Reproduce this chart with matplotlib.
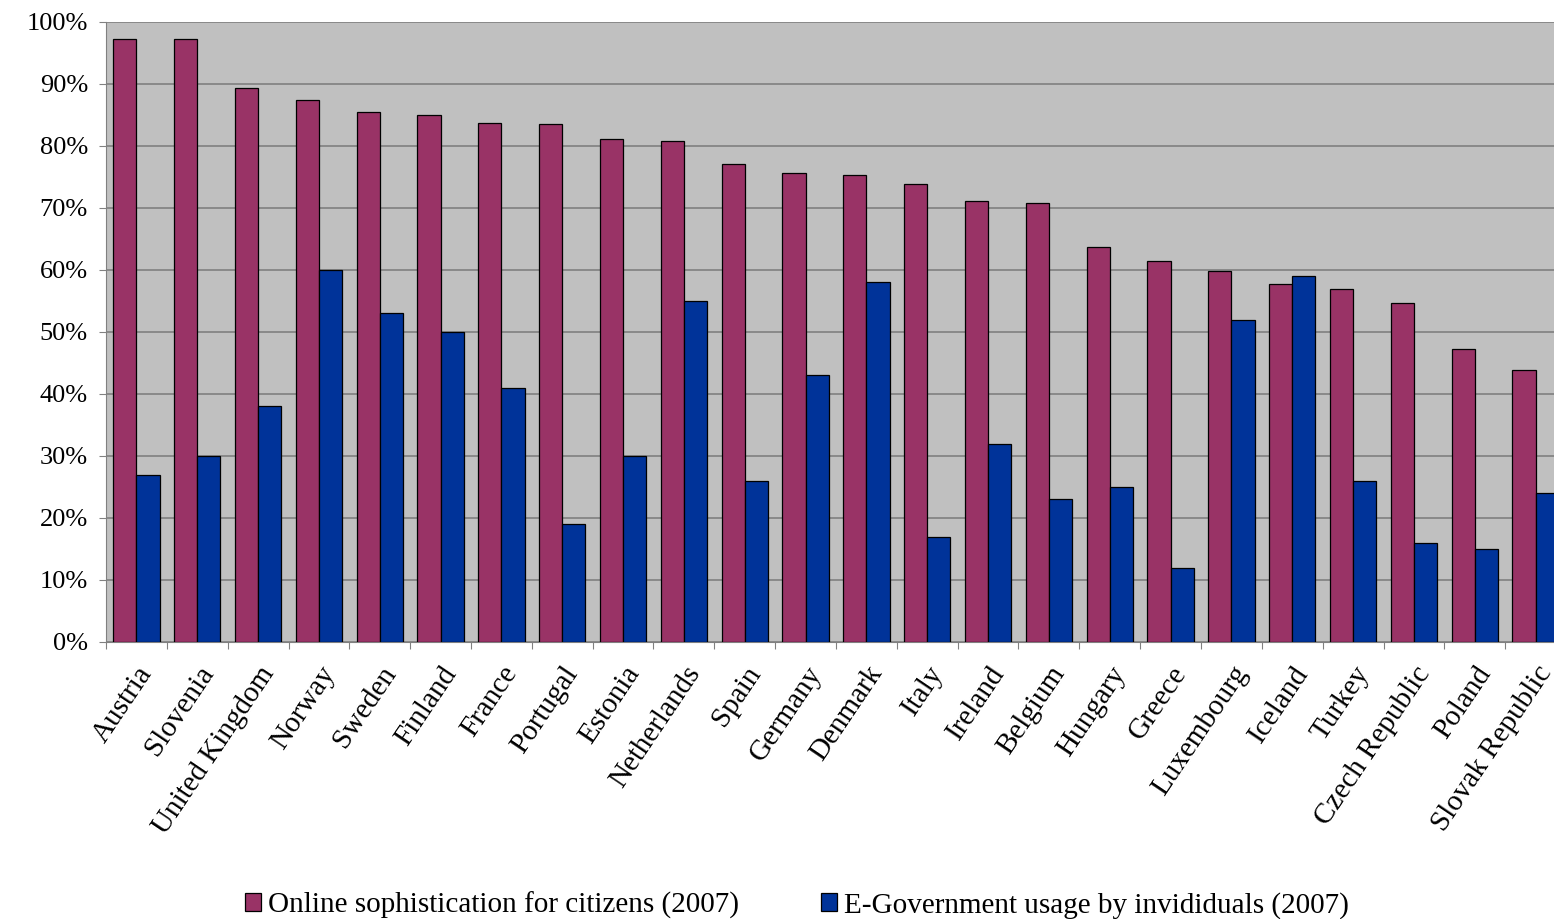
import matplotlib
matplotlib.use("Agg")
import matplotlib.pyplot as plt
import numpy as np
from matplotlib.ticker import FuncFormatter, MultipleLocator

countries = ["Austria", "Slovenia", "United Kingdom", "Norway", "Sweden", "Finland",
             "France", "Portugal", "Estonia", "Netherlands", "Spain", "Germany",
             "Denmark", "Italy", "Ireland", "Belgium", "Hungary", "Greece",
             "Luxembourg", "Iceland", "Turkey", "Czech Republic", "Poland",
             "Slovak Republic"]
sophistication = [97.3, 97.3, 89.4, 87.4, 85.5, 85.0, 83.7, 83.5, 81.1, 80.8, 77.1, 75.6,
                  75.3, 73.9, 71.1, 70.8, 63.7, 61.5, 59.8, 57.7, 56.9, 54.7, 47.3, 43.8]
usage = [27, 30, 38, 60, 53, 50, 41, 19, 30, 55, 26, 43,
         58, 17, 32, 23, 25, 12, 52, 59, 26, 16, 15, 24]
series_labels = ["Online sophistication for citizens (2007)",
                 "E-Government usage by invididuals (2007)"]

plt.rcParams['font.family'] = ['Liberation Serif', 'DejaVu Serif']

W, H = 1554, 919
fig = plt.figure(figsize=(W / 100, H / 100), dpi=100)
left, right, top, bottom = 106, 1566, 22, 642
ax = fig.add_axes([left / W, 1 - bottom / H, (right - left) / W, (bottom - top) / H])
ax.set_facecolor('#C0C0C0')

x = np.arange(len(countries))
bw = 0.38
ax.bar(x - bw / 2, sophistication, bw, color='#993366', edgecolor='black', linewidth=0.9,
       label=series_labels[0], zorder=3)
ax.bar(x + bw / 2, usage, bw, color='#003399', edgecolor='black', linewidth=0.9,
       label=series_labels[1], zorder=3)

ax.set_xlim(-0.5, len(countries) - 0.5)
ax.set_ylim(0, 100)
ax.yaxis.set_major_locator(MultipleLocator(10))
ax.yaxis.set_major_formatter(FuncFormatter(lambda v, p: f"{int(round(v))}%"))
ax.grid(axis='y', color='#808080', linewidth=1.2, zorder=1)
ax.set_axisbelow(True)

ax.set_xticks(np.arange(len(countries) + 1) - 0.5, minor=False)
ax.set_xticklabels([])
ax.set_xticks(x, minor=True)
ax.set_xticklabels(countries, minor=True, rotation=56, ha='right', va='top',
                   rotation_mode='anchor', fontsize=21)
ax.tick_params(axis='x', which='minor', length=0, pad=14)
ax.tick_params(axis='x', which='major', length=5, color='#808080')
ax.tick_params(axis='y', length=5, color='#808080', labelsize=19, pad=8)

for s in ['top', 'right']:
    ax.spines[s].set_visible(False)
ax.spines['left'].set_color('#808080')
ax.spines['bottom'].set_color('#808080')

fig.legend(loc='center', bbox_to_anchor=(797 / W, 1 - 905 / H), ncol=2, frameon=False,
           fontsize=21, handlelength=0.55, handleheight=0.55, handletextpad=0.25,
           columnspacing=2.8)

fig.savefig('out.png', dpi=100)
